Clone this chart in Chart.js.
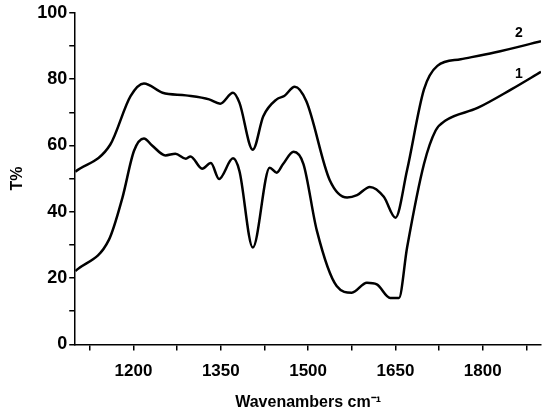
<!DOCTYPE html>
<html>
<head>
<meta charset="utf-8">
<script src="https://cdn.jsdelivr.net/npm/chart.js@4"></script>
<style>
  body { margin: 0; background: #fff; }
  #wrap { width: 550px; height: 416px; }
</style>
</head>
<body>
<div id="wrap"><canvas id="chart"></canvas></div>
<script>
// wavenumbers and transmittance
const wave2 = [1100, 1160, 1195, 1218, 1250, 1290, 1330, 1349, 1371, 1382, 1405, 1423, 1446, 1459, 1477, 1497, 1537, 1567, 1584, 1606, 1630, 1650, 1670, 1699, 1722, 1762, 1820, 1900];
const trans2 = [52.1, 60.2, 74.9, 78.7, 75.9, 75.1, 73.9, 72.6, 75.9, 72.9, 58.7, 68.8, 73.9, 74.9, 77.7, 73.3, 49.6, 44.3, 45, 47.5, 44.5, 38.2, 52.6, 76.9, 84, 86, 88, 91.4];

const wave1 = [1100, 1158, 1181, 1201, 1218, 1232, 1255, 1272, 1290, 1298, 1318, 1333, 1347, 1371, 1382, 1405, 1434, 1446, 1457, 1475, 1492, 1515, 1549, 1575, 1601, 1618, 1641, 1656, 1670, 1699, 1719, 1736, 1791, 1849, 1900];
const trans1 = [22.1, 31.6, 44.2, 58.4, 62.1, 60, 57, 57.5, 56, 56.7, 53, 54.7, 49.9, 56.1, 52.3, 29.2, 53.3, 51.8, 54.4, 58.1, 54.4, 34.3, 17.6, 15.6, 18.6, 18.1, 14, 14, 29.2, 54.4, 64.5, 67.5, 71.3, 76.9, 82.2];

const curveLabels = [
    { text: '2', x: 1862, y: 94 },
    { text: '1', x: 1862, y: 81.5 }
];

const xTicks = [1125, 1200, 1275, 1350, 1425, 1500, 1575, 1650, 1725, 1800, 1875];

function toPoints(xs, ys) {
    return xs.map((x, i) => ({ x: x, y: ys[i] }));
}

const font = { family: 'Liberation Sans, Arial, sans-serif', weight: 'bold' };

// curve numbers next to the ends of the lines
const labelPlugin = {
    id: 'curveLabels',
    afterDatasetsDraw(chart) {
        const ctx = chart.ctx;
        const xs = chart.scales.x, ys = chart.scales.y;
        ctx.save();
        ctx.fillStyle = '#000';
        ctx.font = 'bold 14px Liberation Sans, Arial, sans-serif';
        ctx.textAlign = 'center';
        ctx.textBaseline = 'middle';
        curveLabels.forEach(l => ctx.fillText(l.text, xs.getPixelForValue(l.x), ys.getPixelForValue(l.y)));
        ctx.restore();
    }
};

new Chart(document.getElementById('chart'), {
    type: 'line',
    data: {
        datasets: [
            { data: toPoints(wave2, trans2), borderColor: '#000', borderWidth: 2.5, pointRadius: 0, cubicInterpolationMode: 'monotone' },
            { data: toPoints(wave1, trans1), borderColor: '#000', borderWidth: 2.5, pointRadius: 0, cubicInterpolationMode: 'monotone' }
        ]
    },
    options: {
        responsive: true,
        maintainAspectRatio: false,
        animation: false,
        layout: { padding: { top: 10, right: 9, left: 4, bottom: 0 } },
        plugins: { legend: { display: false }, tooltip: { enabled: false } },
        scales: {
            x: {
                type: 'linear',
                min: 1100,
                max: 1900,
                afterBuildTicks: axis => { axis.ticks = xTicks.map(v => ({ value: v })); },
                ticks: {
                    autoSkip: false,
                    maxRotation: 0,
                    color: '#000',
                    font: { ...font, size: 17 },
                    padding: 11,
                    callback: v => (v % 150 === 0 ? v : '')
                },
                grid: { drawOnChartArea: false, color: '#000', tickLength: 6, lineWidth: 1.5 },
                border: { color: '#000', width: 1.5 },
                title: { display: true, text: 'Wavenambers cm⁻¹', color: '#000', font: { ...font, size: 16 }, padding: { top: 0, bottom: 4 } }
            },
            y: {
                min: 0,
                max: 100,
                afterBuildTicks: axis => {
                    const t = [];
                    for (let v = 0; v <= 100; v += 10) t.push({ value: v });
                    axis.ticks = t;
                },
                ticks: {
                    color: '#000',
                    font: { ...font, size: 18 },
                    padding: 2,
                    callback: v => (v % 20 === 0 ? v : '')
                },
                grid: { drawOnChartArea: false, color: '#000', tickLength: 6, lineWidth: 1.5 },
                border: { color: '#000', width: 1.5 },
                title: { display: true, text: 'T%', color: '#000', font: { ...font, size: 16 }, padding: { bottom: 8 } }
            }
        }
    },
    plugins: [labelPlugin]
});
</script>
</body>
</html>
